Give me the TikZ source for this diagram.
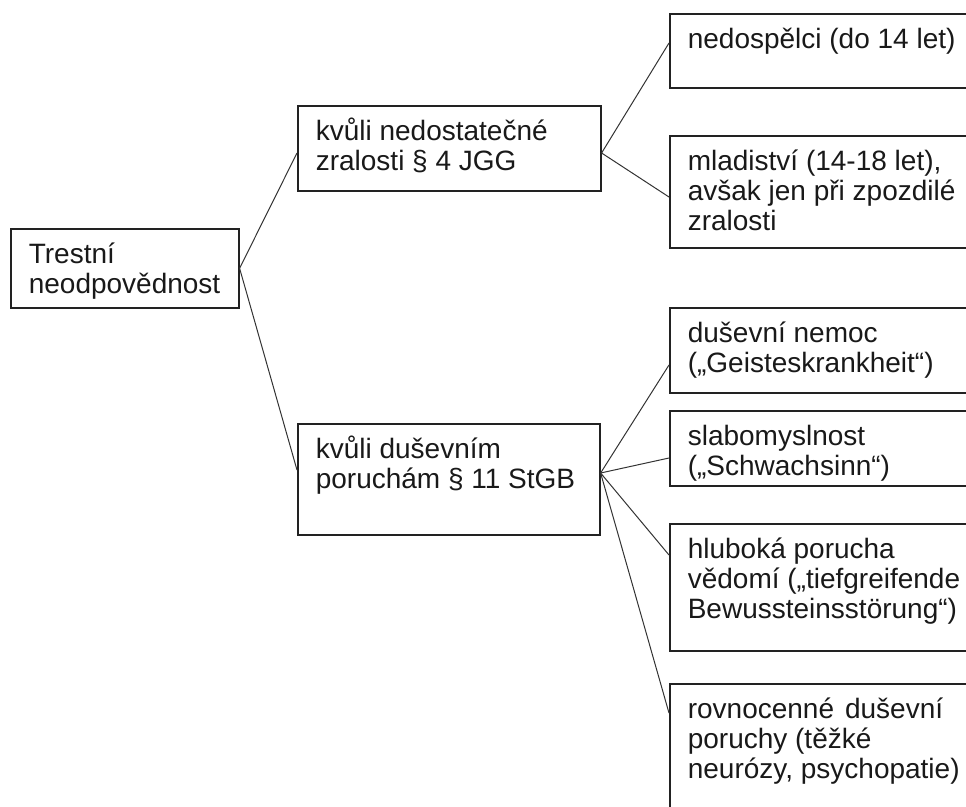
\documentclass[tikz,border=0pt]{standalone}
\usepackage{fontspec}
\setmainfont{Liberation Sans}
\usepackage{tikz}
\definecolor{boxline}{HTML}{222222}
\definecolor{linkline}{HTML}{333333}
\newcommand{\boxtext}[3]{\parbox[c][#1pt][t]{#2pt}{\raggedright\rule{0pt}{35pt}#3}}
\tikzset{
  boxnode/.style={draw=boxline, line width=1.6pt, anchor=north west, inner xsep=18pt, inner ysep=0pt,
                  font=\fontsize{28}{30}\selectfont, text=black!90},
  link/.style={draw=linkline, line width=1pt},
}

\begin{document}
\begin{tikzpicture}[x=1pt, y=-1pt]
\useasboundingbox (0,0) rectangle (966,806);
\clip (0,0) rectangle (966,806);
%Nodes
\node[boxnode] (root) at (10,228) {\boxtext{79}{192}{Trestní\\neodpovědnost}};
\node[boxnode] (mid1) at (297,105) {\boxtext{85}{267}{kvůli nedostatečné\\zralosti § 4 JGG}};
\node[boxnode] (mid2) at (297,423) {\boxtext{111}{266}{kvůli duševním\\poruchám § 11 StGB}};
\node[boxnode] (r1) at (669,13) {\boxtext{74}{300}{nedospělci (do 14 let)}};
\node[boxnode] (r2) at (669,135) {\boxtext{112}{300}{mladiství (14-18 let),\\avšak jen při zpozdilé\\zralosti}};
\node[boxnode] (r3) at (669,307) {\boxtext{85}{300}{duševní nemoc\\(„Geisteskrankheit“)}};
\node[boxnode] (r4) at (669,410) {\boxtext{75}{300}{slabomyslnost\\(„Schwachsinn“)}};
\node[boxnode] (r5) at (669,523) {\boxtext{127}{300}{hluboká porucha\\vědomí („tiefgreifende\\Bewussteinsstörung“)}};
\node[boxnode] (r6) at (669,683) {\boxtext{150}{300}{rovnocenné\hspace{11pt}duševní\\poruchy (těžké\\neurózy, psychopatie)}};

%Lines
\draw[link] (root.east) -- ([yshift=-48pt]mid1.north west);
\draw[link] (root.east) -- ([yshift=-47pt]mid2.north west);
\draw[link] ([yshift=-48pt]mid1.north east) -- ([yshift=-30pt]r1.north west);
\draw[link] ([yshift=-48pt]mid1.north east) -- ([yshift=-62pt]r2.north west);
\draw[link] ([yshift=-50pt]mid2.north east) -- ([yshift=-58pt]r3.north west);
\draw[link] ([yshift=-50pt]mid2.north east) -- ([yshift=-48pt]r4.north west);
\draw[link] ([yshift=-50pt]mid2.north east) -- ([yshift=-32pt]r5.north west);
\draw[link] ([yshift=-50pt]mid2.north east) -- ([yshift=-30pt]r6.north west);
\end{tikzpicture}
\end{document}
